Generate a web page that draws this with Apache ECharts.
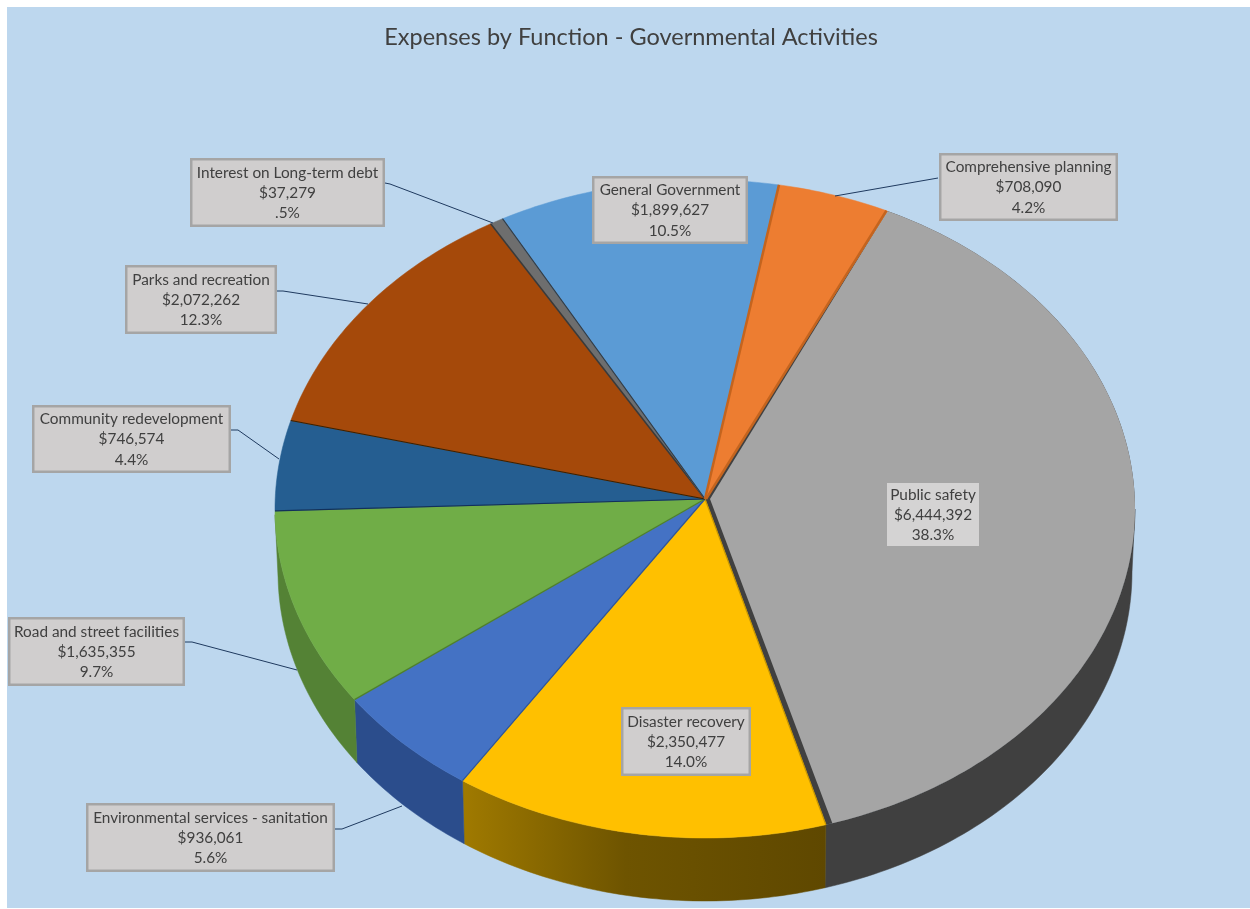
<!DOCTYPE html>
<html>
<head>
<meta charset="utf-8">
<style>html,body{margin:0;padding:0;background:#fff}#c{width:1250px;height:909px}</style>
<script src="https://cdn.jsdelivr.net/npm/echarts@6/dist/echarts.min.js"></script>
</head>
<body>
<div id="c"></div>
<script>
// ---- data, clockwise from the top-right cut ----
const categories = ['Public safety','Disaster recovery','Environmental services - sanitation','Road and street facilities','Community redevelopment','Parks and recreation','Interest on Long-term debt','General Government','Comprehensive planning'];
const amounts = [6444392,2350477,936061,1635355,746574,2072262,37279,1899627,708090];
const shares = [38.3,14.0,5.6,9.7,4.4,12.3,0.5,10.5,4.2];
const shareLabels = ['38.3%','14.0%','5.6%','9.7%','4.4%','12.3%','.5%','10.5%','4.2%'];
const title = 'Expenses by Function - Governmental Activities';

// ---- styles ----
const topColors = ['#A5A5A5','#FFC000','#4472C4','#70AD47','#255E91','#A5490A','#6E6E6E','#5B9BD5','#ED7D31'];
const wallColors = ['#404040',null,'#2B4D8C','#548235','#1A4268','#733309','#444','#3F6D96','#A65722'];
const edgeColors = ['#404040','#C79600','#2F5597','#4E7E2F','#12305A','#3A2000','#3A3A3A','#3F7AB0','#C4641E'];

// ---- layout: outer box [x0,y0,x1,y1] and leader polyline per label ----
const boxes = [[887,483,979,546],[621,707,751,776],[86,803,335,872],[8,617,185,686],[32,405,231,473],[125,265,277,334],[190,158,385,227],[592,176,748,244],[939,153,1118,221]];
const leaders = [null,null,[[335,829],[342,829],[402,806]],[[185,642],[192,642],[297,670]],[[231,430],[238,430],[279,459]],[[277,291],[283,291],[368,304]],[[385,183],[390,184],[493,223]],null,[[938,178],[835,196]]];
const apex = [705,499], ellipse = {cx:705,cy:509,rx:430,ry:329}, depth = 63, wallRx = 427, startDeg = 25.1, wallEndDeg = 269;
const FONT = 'Lato';

const total = shares.reduce((a,b)=>a+b,0);
const rad = d => d*Math.PI/180;
const onTop = d => [ellipse.cx+ellipse.rx*Math.sin(rad(d)), ellipse.cy-ellipse.ry*Math.cos(rad(d))];
const onBottom = d => [ellipse.cx+wallRx*Math.sin(rad(d)), ellipse.cy+depth-ellipse.ry*Math.cos(rad(d))];
const startOf = i => startDeg + shares.slice(0,i).reduce((a,b)=>a+b,0)/total*360;
function arc(a,b,f){const n=Math.max(2,Math.ceil(b-a));const out=[];for(let k=0;k<=n;k++)out.push(f(a+(b-a)*k/n));return out;}

const rows = categories.map((c,i)=>({name:c,value:[shares[i],amounts[i]]}));

function renderWall(params){
  const i=params.dataIndex; const a=Math.max(startOf(i),90), b=Math.min(startOf(i+1),wallEndDeg);
  if(b<=a) return {type:'group',children:[]};
  const pts=arc(a,b,onTop).concat(arc(a,b,onBottom).reverse());
  const fill = wallColors[i] || new echarts.graphic.LinearGradient(0,0,1,0,[{offset:0,color:'#A07A00'},{offset:0.45,color:'#6E5400'},{offset:1,color:'#5F4800'}]);
  return {type:'polygon',shape:{points:pts},style:{fill:fill,stroke:fill,lineWidth:0.5}};
}
function renderTop(params){
  const i=params.dataIndex; const a=startOf(i), b=startOf(i+1);
  const children=[];
  if(i===0){ // the largest slice is pulled out a little: its cut face shows
    children.push({type:'polygon',shape:{points:[apex].concat(arc(a,b,onTop))},style:{fill:wallColors[0]}});
    children.push({type:'polygon',shape:{points:[[apex[0]+5,apex[1]]].concat(arc(a,b-0.9,onTop))},style:{fill:topColors[0]}});
  } else {
    children.push({type:'polygon',shape:{points:[apex].concat(arc(a,b,onTop))},style:{fill:topColors[i],stroke:topColors[i],lineWidth:0.5}});
    const w = i===8 ? 2.5 : (i===6 ? 1.5 : 1.2);
    children.push({type:'polyline',shape:{points:[onTop(a),apex]},style:{stroke:edgeColors[i],fill:null,lineWidth:w}});
    if(i===8) children.push({type:'polyline',shape:{points:[onTop(b-0.15),[apex[0]+1,apex[1]]]},style:{stroke:edgeColors[8],fill:null,lineWidth:2.5}});
    if(i===7) children.push({type:'polyline',shape:{points:[onTop(a),apex]},style:{stroke:'#3A3A3A',fill:null,lineWidth:1.2}});
  }
  return {type:'group',children};
}
function renderLabel(params,api){
  const i=params.dataIndex, bx=boxes[i], plain=i===0;
  const ins=plain?0:1.25;
  const children=[];
  if(leaders[i]) children.push({type:'polyline',shape:{points:leaders[i]},style:{stroke:'#1F3A5F',fill:null,lineWidth:1}});
  children.push({type:'rect',shape:{x:bx[0]+ins,y:bx[1]+ins,width:bx[2]-bx[0]-2*ins,height:bx[3]-bx[1]-2*ins},
    style:{fill:plain?'#D4D3D3':'#D0CECE',stroke:plain?null:'#A5A5A5',lineWidth:plain?0:2.5}});
  const amt='$'+Number(api.value(1)).toLocaleString('en-US');
  children.push({type:'text',style:{text:categories[i]+'\n'+amt+'\n'+shareLabels[i],x:(bx[0]+bx[2])/2,y:(bx[1]+bx[3])/2+0.5,
    align:'center',verticalAlign:'middle',fill:'#404040',fontFamily:FONT,fontSize:15.35,lineHeight:20.2}});
  return {type:'group',children};
}

const chart=echarts.init(document.getElementById('c'),null,{renderer:'canvas',width:1250,height:909});
chart.setOption({
  animation:false,
  backgroundColor:'#FFFFFF',
  title:{text:title,left:626,top:20,textAlign:'center',textStyle:{fontFamily:FONT,fontWeight:'normal',fontSize:23.5,color:'#404040'}},
  graphic:[{type:'rect',z:-10,silent:true,shape:{x:7,y:7,width:1243,height:901},style:{fill:'#BDD7EE'}}],
  series:[
    {type:'custom',coordinateSystem:'none',silent:true,clip:false,z:2,data:rows,renderItem:renderWall},
    {type:'custom',coordinateSystem:'none',silent:true,clip:false,z:3,data:rows,renderItem:renderTop},
    {type:'custom',coordinateSystem:'none',silent:true,clip:false,z:4,data:rows,renderItem:renderLabel}
  ]
});
</script>
</body>
</html>
